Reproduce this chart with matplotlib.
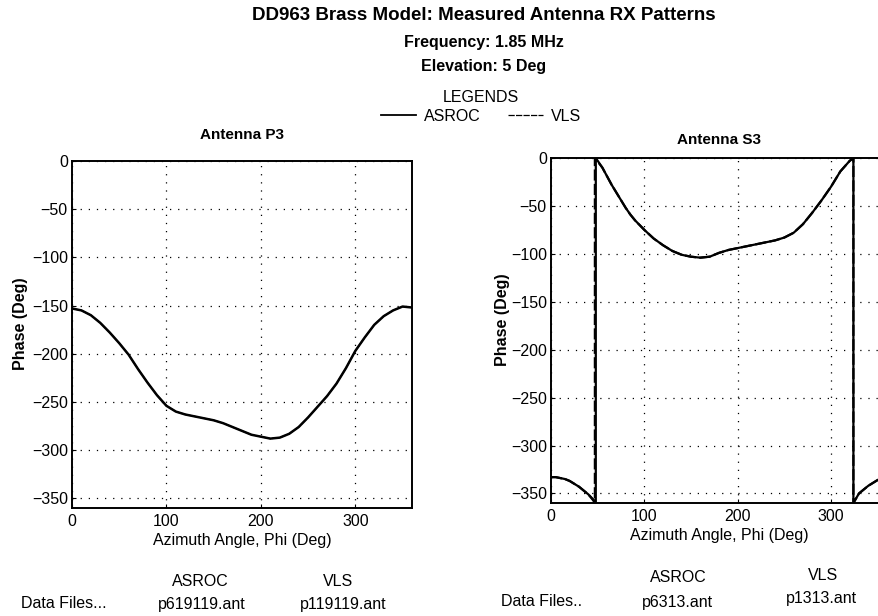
"""DD963 brass model - measured antenna RX phase patterns"""

import matplotlib
matplotlib.use("Agg")
import matplotlib.pyplot as plt
from matplotlib.lines import Line2D

plt.rcParams["font.family"] = ["Liberation Sans", "DejaVu Sans"]
plt.rcParams["font.size"] = 11.5

# Antenna P3: phase (deg) vs azimuth (deg)
az_p3 = [0, 10, 20, 30, 40, 50, 60, 70, 80, 90, 100, 110, 120, 130, 140, 150, 160, 170, 180,
         190, 200, 210, 220, 230, 240, 250, 260, 270, 280, 290, 300, 310, 320, 330, 340, 350, 360]
asroc_p3 = [-153, -155, -160, -168, -178, -189, -201, -216, -230, -243, -254, -260, -263, -265,
            -267, -269, -272, -276, -280, -284, -286, -288, -287, -283, -276, -266, -255, -244,
            -231, -215, -197, -183, -170, -161, -155, -151, -152]
vls_p3 = [-153, -155, -160, -168, -178, -189, -201, -216, -230, -243, -254, -260, -263, -265,
          -267, -269, -272, -276, -280, -284, -286, -288, -287, -283, -276, -266, -255, -244,
          -231, -215, -197, -183, -170, -161, -155, -151, -152]

# Antenna S3: phase wraps between -360 and 0
az_s3_asroc = [0, 5, 10, 15, 20, 25, 30, 35, 40, 45, 48, 48, 55, 60, 65, 70, 75, 80, 85, 90, 95,
               100, 110, 120, 130, 140, 150, 160, 170, 180, 190, 200, 210, 220, 230, 240, 250,
               260, 270, 280, 290, 300, 310, 320, 324, 324, 330, 340, 350, 360]
asroc_s3 = [-333, -333, -334, -335, -337, -340, -343, -347, -351, -356, -360, 0, -10, -19, -28,
            -36, -44, -52, -59, -65, -70, -75, -84, -91, -97, -101, -103, -104, -103, -99, -96,
            -94, -92, -90, -88, -86, -83, -78, -69, -57, -44, -30, -14, -3, 0, -360, -350, -342,
            -336, -333]
az_s3_vls = [0, 5, 10, 15, 20, 25, 30, 35, 40, 45, 47, 47, 55, 60, 65, 70, 75, 80, 85, 90, 95,
             100, 110, 120, 130, 140, 150, 160, 170, 180, 190, 200, 210, 220, 230, 240, 250,
             260, 270, 280, 290, 300, 310, 320, 324, 324, 330, 340, 350, 360]
vls_s3 = [-333, -333, -334, -335, -337, -340, -343, -347, -351, -357, -360, 0, -10, -19, -28,
          -36, -44, -52, -59, -65, -70, -75, -84, -91, -97, -101, -103, -104, -103, -99, -96,
          -94, -92, -90, -88, -86, -83, -78, -69, -57, -44, -30, -14, -3, 0, -360, -350, -342,
          -336, -333]

x_ticks = [0, 100, 200, 300]
y_ticks = [0, -50, -100, -150, -200, -250, -300, -350]

series_names = ["ASROC", "VLS"]
files_p3 = ["p619119.ant", "p119119.ant"]
files_s3 = ["p6313.ant", "p1313.ant"]

W, H = 879, 616
fig = plt.figure(figsize=(W / 100, H / 100), dpi=100)


def style_axes(ax, ylabel_x):
    ax.set_xlim(0, 360)
    ax.set_ylim(-360, 0)
    ax.set_xticks(x_ticks)
    ax.set_yticks(y_ticks)
    ax.grid(True, color="black", linestyle=(0, (1, 5.5)), linewidth=0.9)
    ax.tick_params(direction="in", length=3, width=0.8)
    ax.tick_params(axis="x", pad=4)
    ax.tick_params(axis="y", pad=3)
    for s in ax.spines.values():
        s.set_linewidth(1.4)
    ax.set_xlabel("Azimuth Angle, Phi (Deg)", labelpad=3)
    ax.set_ylabel("Phase (Deg)", fontweight="bold")
    ax.yaxis.set_label_coords(ylabel_x, 0.53)


# left panel
ax1 = fig.add_axes([72 / W, 1 - 508 / H, 340 / W, 347 / H])
ax1.plot(az_p3, asroc_p3, color="black", linewidth=1.8)
ax1.plot(az_p3, vls_p3, color="black", linewidth=1.0, linestyle=(0, (5, 1)))
style_axes(ax1, -0.13)
ax1.set_title("Antenna P3", fontweight="bold", fontsize=11, pad=16)

# right panel (runs off the right edge of the page)
ax2 = fig.add_axes([551 / W, 1 - 503 / H, 336 / W, 345 / H])
ax2.plot(az_s3_asroc, asroc_s3, color="black", linewidth=1.6)
ax2.plot(az_s3_vls, vls_s3, color="black", linewidth=1.6, linestyle=(0, (5, 1.5)))
style_axes(ax2, -0.122)
ax2.set_title("Antenna S3", fontweight="bold", fontsize=11, pad=10)

# header
cx = 484 / W
fig.text(cx, 1 - 15 / H, "DD963 Brass Model: Measured Antenna RX Patterns",
         ha="center", va="center", fontsize=13.5, fontweight="bold")
fig.text(cx, 1 - 43 / H, "Frequency: 1.85 MHz", ha="center", va="center",
         fontsize=11.5, fontweight="bold")
fig.text(cx, 1 - 67 / H, "Elevation: 5 Deg", ha="center", va="center",
         fontsize=11.5, fontweight="bold")

handles = [Line2D([], [], color="black", linewidth=1.3),
           Line2D([], [], color="black", linewidth=0.9, linestyle=(0, (5, 1)))]
fig.legend(handles, series_names, title="LEGENDS", ncol=2, frameon=False, loc="center",
           bbox_to_anchor=(481 / W, 1 - 107 / H), handlelength=2.2, handletextpad=0.5,
           columnspacing=1.7, fontsize=11.5, title_fontsize=11.5, borderpad=0,
           labelspacing=0.2)

# data file notes under each panel
fig.text(200 / W, 1 - 581 / H, series_names[0], ha="center", va="center")
fig.text(338 / W, 1 - 581 / H, series_names[1], ha="center", va="center")
fig.text(64 / W, 1 - 604 / H, "Data Files...", ha="center", va="center")
fig.text(202 / W, 1 - 604 / H, files_p3[0], ha="center", va="center")
fig.text(343 / W, 1 - 604 / H, files_p3[1], ha="center", va="center")

fig.text(678 / W, 1 - 578 / H, series_names[0], ha="center", va="center")
fig.text(823 / W, 1 - 575 / H, series_names[1], ha="center", va="center")
fig.text(542 / W, 1 - 602 / H, "Data Files..", ha="center", va="center")
fig.text(677 / W, 1 - 602 / H, files_s3[0], ha="center", va="center")
fig.text(821 / W, 1 - 598 / H, files_s3[1], ha="center", va="center")

fig.savefig("out.png", dpi=100, facecolor="white")
